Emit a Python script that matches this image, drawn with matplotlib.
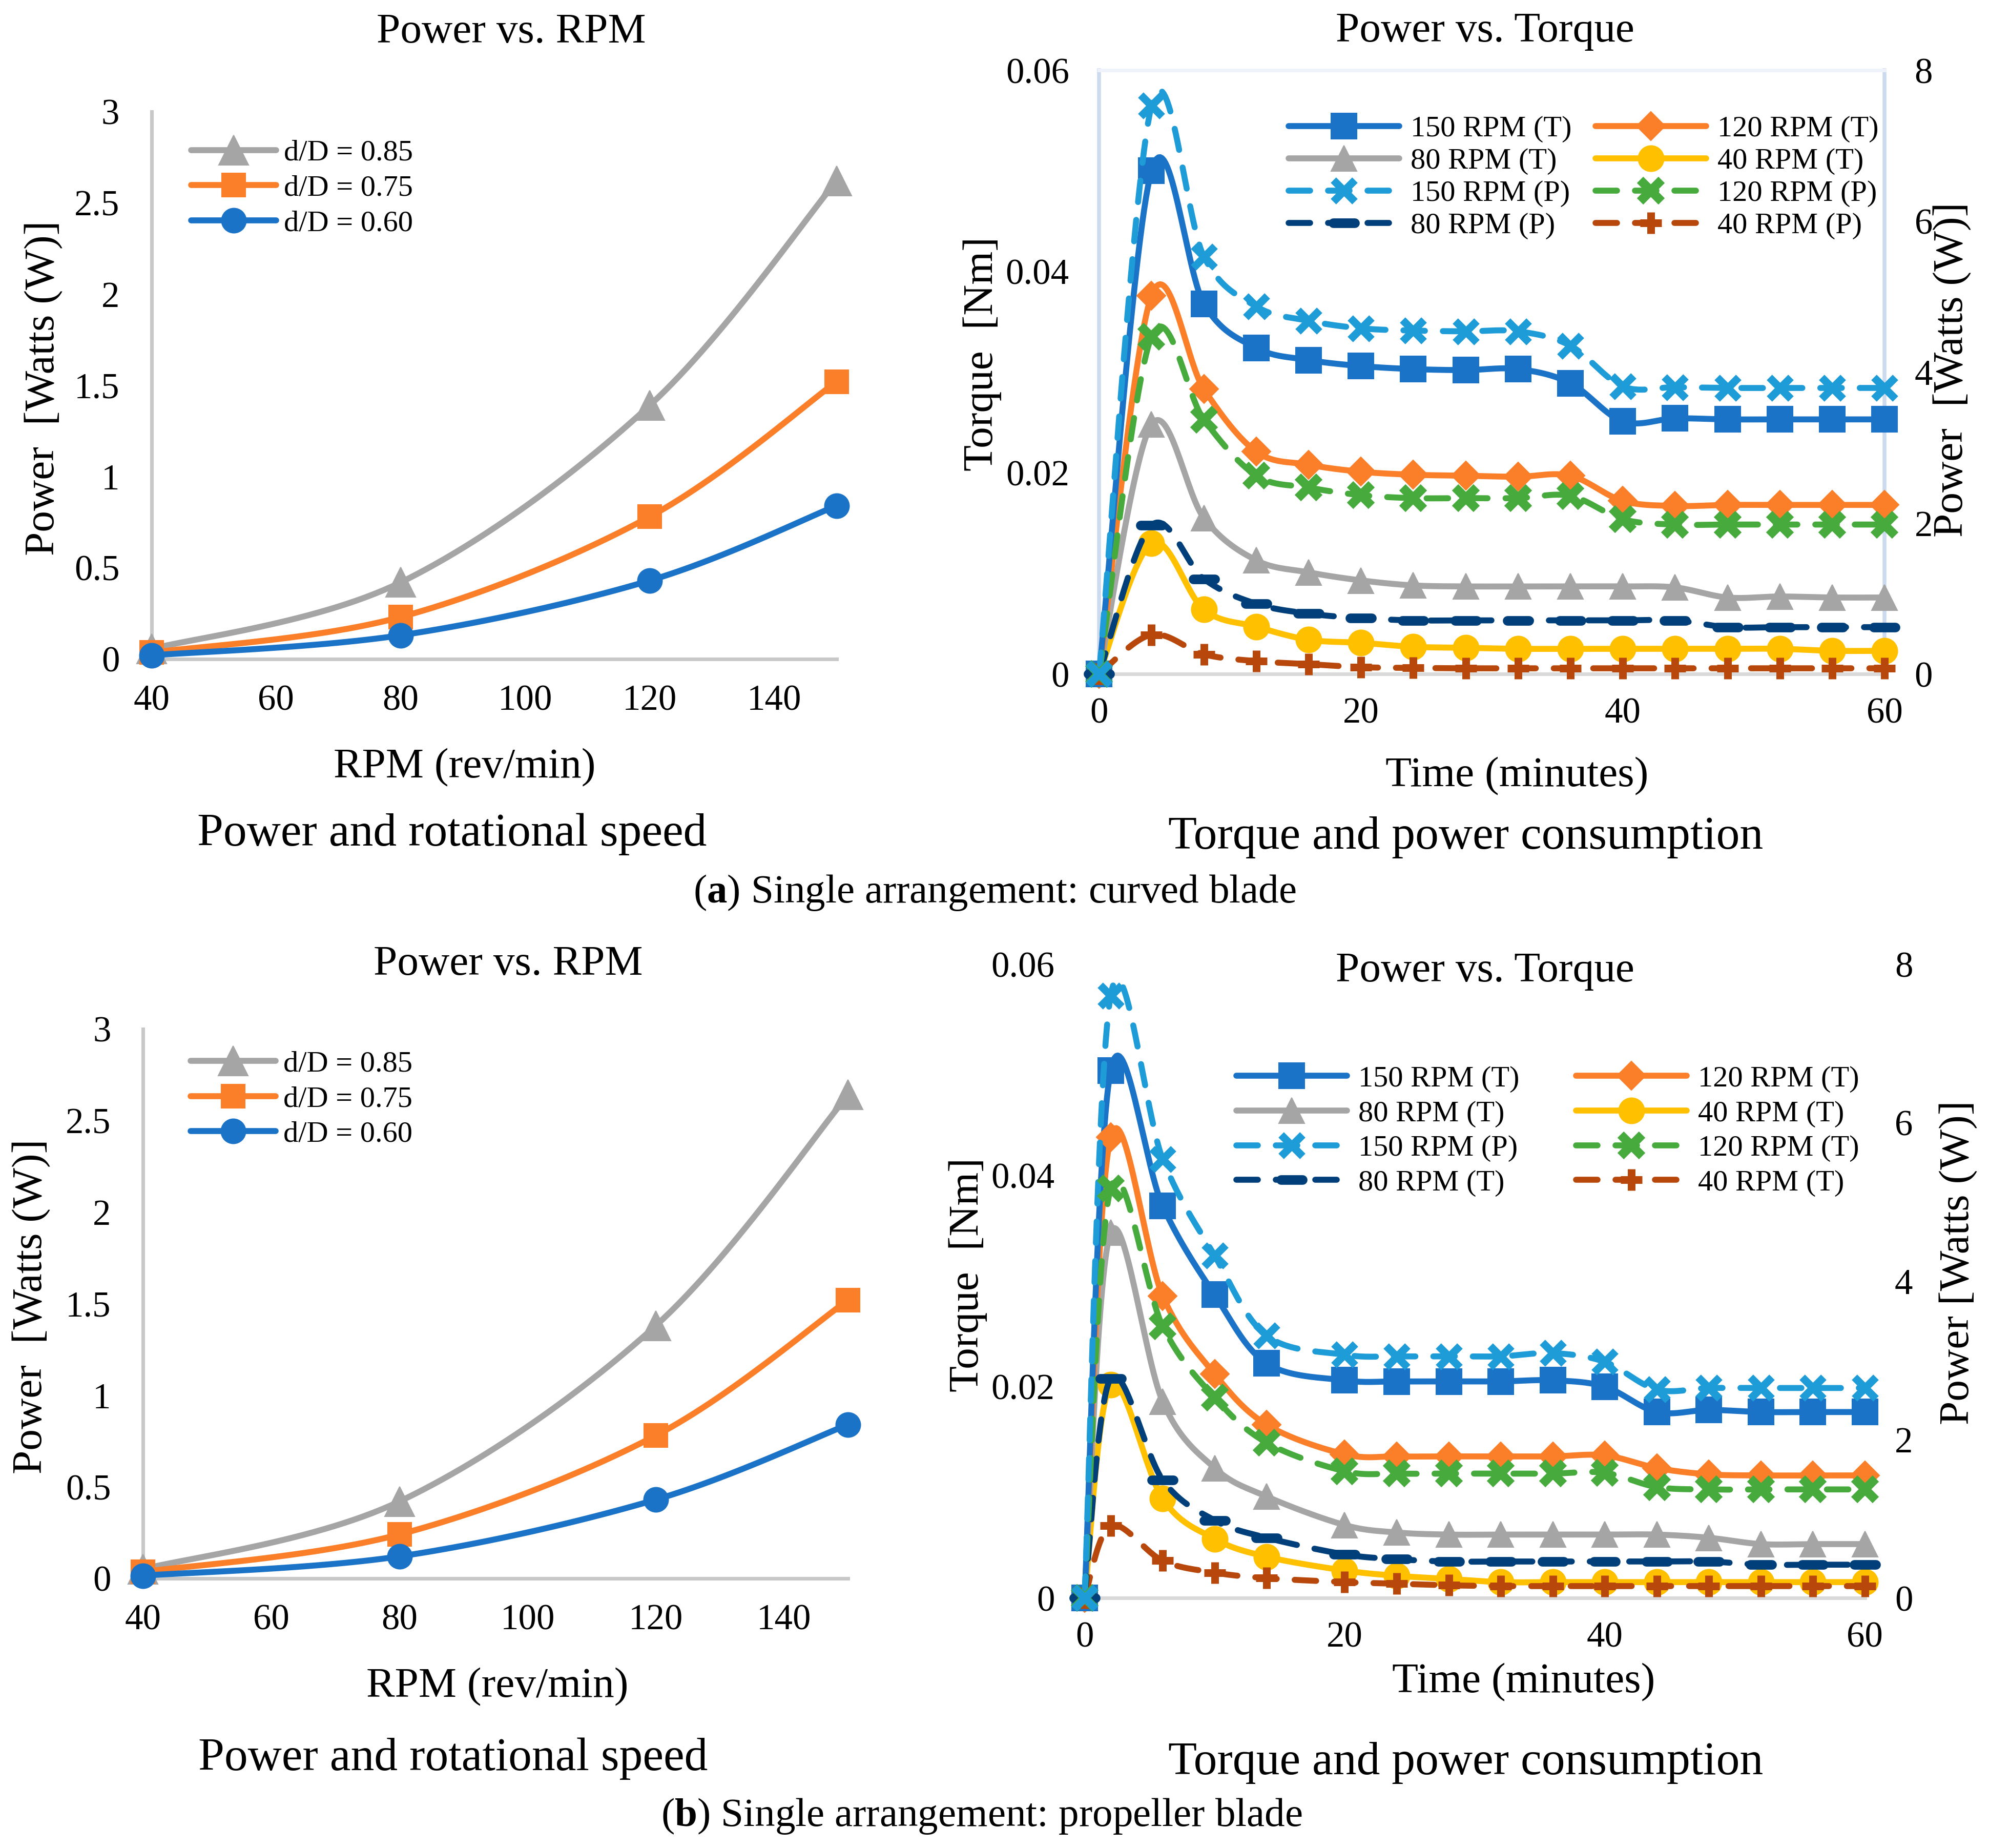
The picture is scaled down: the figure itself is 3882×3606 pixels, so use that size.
import numpy as np
import matplotlib
matplotlib.use('Agg')
import matplotlib.pyplot as plt
from matplotlib.lines import Line2D
from matplotlib.markers import MarkerStyle

plt.rcParams['font.family'] = ['Liberation Serif', 'DejaVu Serif']
plt.rcParams['mathtext.fontset'] = 'custom'
plt.rcParams['mathtext.rm'] = 'Liberation Serif'
plt.rcParams['mathtext.bf'] = 'Liberation Serif:bold'

# ---------------- data: power vs rpm ----------------
rpm = [40, 80, 120, 150]
rpm_ticks = [40, 60, 80, 100, 120, 140]
pw_ticks = [0, 0.5, 1, 1.5, 2, 2.5, 3]
pw_labels = ['0', '0.5', '1', '1.5', '2', '2.5', '3']
dD_labels = ['d/D = 0.85', 'd/D = 0.75', 'd/D = 0.60']

p085_a = [0.055, 0.42, 1.39, 2.62]
p075_a = [0.035, 0.23, 0.78, 1.52]
p060_a = [0.02, 0.13, 0.43, 0.84]

p085_b = [0.05, 0.42, 1.38, 2.64]
p075_b = [0.035, 0.24, 0.78, 1.52]
p060_b = [0.015, 0.12, 0.43, 0.84]

# ---------------- data: torque / power vs time ----------------
t_a = [0, 4, 8, 12, 16, 20, 24, 28, 32, 36, 40, 44, 48, 52, 56, 60]
T150_a = [0, 0.0500, 0.0368, 0.0324, 0.0312, 0.0306, 0.0303, 0.0302, 0.0303, 0.0289, 0.0251, 0.0254, 0.0253, 0.0253, 0.0253, 0.0253]
T120_a = [0, 0.0376, 0.0283, 0.0221, 0.0208, 0.0201, 0.0198, 0.0197, 0.0196, 0.0197, 0.0172, 0.0167, 0.0168, 0.0168, 0.0168, 0.0168]
T80_a = [0, 0.0248, 0.0155, 0.0113, 0.0101, 0.0093, 0.0088, 0.0087, 0.0087, 0.0087, 0.0087, 0.0086, 0.0076, 0.0077, 0.0076, 0.0076]
T40_a = [0, 0.0130, 0.0064, 0.0047, 0.0034, 0.0031, 0.0027, 0.0026, 0.0025, 0.0025, 0.0025, 0.0025, 0.0025, 0.0025, 0.0023, 0.0023]
P150_a = [0, 7.53, 5.53, 4.87, 4.68, 4.58, 4.55, 4.54, 4.54, 4.35, 3.81, 3.80, 3.79, 3.79, 3.79, 3.79]
P120_a = [0, 4.47, 3.37, 2.63, 2.47, 2.37, 2.33, 2.33, 2.33, 2.36, 2.05, 1.98, 1.98, 1.98, 1.98, 1.98]
P80_a = [0, 1.97, 1.26, 0.93, 0.80, 0.74, 0.71, 0.71, 0.71, 0.71, 0.71, 0.71, 0.62, 0.62, 0.62, 0.62]
P40_a = [0, 0.52, 0.26, 0.17, 0.13, 0.09, 0.08, 0.075, 0.075, 0.075, 0.075, 0.075, 0.075, 0.075, 0.075, 0.075]
labels_a = ['150 RPM (T)', '120 RPM (T)', '80 RPM (T)', '40 RPM (T)',
            '150 RPM (P)', '120 RPM (P)', '80 RPM (P)', '40 RPM (P)']

t_b = [0, 2, 6, 10, 14, 20, 24, 28, 32, 36, 40, 44, 48, 52, 56, 60]
T150_b = [0, 0.0499, 0.0371, 0.0287, 0.0222, 0.0206, 0.0205, 0.0205, 0.0205, 0.0206, 0.0200, 0.0176, 0.0178, 0.0176, 0.0176, 0.0176]
T120_b = [0, 0.0436, 0.0286, 0.0212, 0.0164, 0.0136, 0.0134, 0.0134, 0.0134, 0.0134, 0.0135, 0.0123, 0.0117, 0.0116, 0.0116, 0.0116]
T80_b = [0, 0.0346, 0.0186, 0.0123, 0.0096, 0.0069, 0.0062, 0.0060, 0.0060, 0.0060, 0.0060, 0.0060, 0.0057, 0.0051, 0.0051, 0.0051]
T40_b = [0, 0.0202, 0.0094, 0.0056, 0.0039, 0.0026, 0.0021, 0.0018, 0.0015, 0.0015, 0.0015, 0.0015, 0.0015, 0.0015, 0.0015, 0.0015]
P150_b = [0, 7.60, 5.54, 4.32, 3.31, 3.07, 3.05, 3.05, 3.05, 3.09, 2.98, 2.63, 2.65, 2.65, 2.65, 2.65]
P120_b = [0, 5.17, 3.43, 2.53, 1.96, 1.60, 1.57, 1.57, 1.57, 1.57, 1.58, 1.40, 1.37, 1.37, 1.37, 1.37]
P80_b = [0, 2.77, 1.49, 0.98, 0.76, 0.55, 0.49, 0.46, 0.46, 0.46, 0.46, 0.46, 0.46, 0.42, 0.42, 0.42]
P40_b = [0, 0.91, 0.47, 0.32, 0.25, 0.20, 0.18, 0.16, 0.15, 0.15, 0.15, 0.15, 0.15, 0.15, 0.15, 0.15]
labels_b = ['150 RPM (T)', '120 RPM (T)', '80 RPM (T)', '40 RPM (T)',
            '150 RPM (P)', '120 RPM (T)', '80 RPM (T)', '40 RPM (T)']

time_ticks = [0, 20, 40, 60]
tq_ticks = [0, 0.02, 0.04, 0.06]
tq_labels = ['0', '0.02', '0.04', '0.06']
pr_ticks = [0, 2, 4, 6, 8]
pr_labels = ['0', '2', '4', '6', '8']

# colours (excel-ish)
BLUE = '#1B73C8'
ORANGE = '#FB7E29'
GRAY = '#A5A5A5'
YELLOW = '#FFC000'
LBLUE = '#1E9CD7'
GREEN = '#46AB3C'
NAVY = '#003F7A'
RUST = '#B8470C'
AXGRAY = '#C8C8C8'
FRAME = '#CCDAF0'

LW = 2.8
DASH = (3.6, 3.0)


def smooth(x, y, n=30):
    # excel style smoothed line (bezier through points)
    x = np.asarray(x, float)
    y = np.asarray(y, float)
    px = np.concatenate([[x[0]], x, [x[-1]]])
    py = np.concatenate([[y[0]], y, [y[-1]]])
    s = np.linspace(0, 1, n + 1)[1:]
    xs, ys = [x[0]], [y[0]]
    for i in range(len(x) - 1):
        p0 = np.array([px[i], py[i]])
        p1 = np.array([px[i + 1], py[i + 1]])
        p2 = np.array([px[i + 2], py[i + 2]])
        p3 = np.array([px[i + 3], py[i + 3]])
        c1 = p1 + (p2 - p0) / 6
        c2 = p2 - (p3 - p1) / 6
        for u in s:
            pt = (1 - u) ** 3 * p1 + 3 * (1 - u) ** 2 * u * c1 + 3 * (1 - u) * u ** 2 * c2 + u ** 3 * p2
            xs.append(pt[0])
            ys.append(pt[1])
    return xs, ys


def series(ax, x, y, color, marker, ms, mew=0.5, dashed=False, z=3):
    sx, sy = smooth(x, y)
    if dashed:
        ax.plot(sx, sy, color=color, lw=LW, dashes=DASH, dash_capstyle='round', zorder=z, clip_on=False)
    else:
        ax.plot(sx, sy, color=color, lw=LW, solid_capstyle='round', zorder=z, clip_on=False)
    ax.plot(x, y, ls='none', marker=marker, ms=ms, mfc=color, mec=color, mew=mew, zorder=z + 0.1, clip_on=False)
    kw = dict(color=color, lw=LW, marker=marker, ms=ms, mfc=color, mec=color, mew=mew)
    if dashed:
        return Line2D([], [], dashes=DASH, dash_capstyle='round', **kw)
    return Line2D([], [], solid_capstyle='round', **kw)


fig = plt.figure(figsize=(12.94, 12.02), dpi=300)

TICK = 17


def rpm_panel(rect, p85, p75, p60, leg_anchor):
    ax = fig.add_axes(rect)
    h1 = series(ax, rpm, p85, GRAY, '^', 14)
    h2 = series(ax, rpm, p75, ORANGE, 's', 11)
    h3 = series(ax, rpm, p60, BLUE, 'o', 11.5)
    ax.set_xlim(40, 150)
    ax.set_ylim(0, 3)
    ax.set_xticks(rpm_ticks)
    ax.set_yticks(pw_ticks)
    ax.set_yticklabels(pw_labels)
    ax.tick_params(length=0, labelsize=TICK)
    ax.tick_params(axis='x', pad=12)
    ax.tick_params(axis='y', pad=15)
    for s in ['top', 'right']:
        ax.spines[s].set_visible(False)
    for s in ['left', 'bottom']:
        ax.spines[s].set_color(AXGRAY)
        ax.spines[s].set_linewidth(1.7)
    ax.set_facecolor('none')
    ax.legend([h1, h2, h3], dD_labels, loc='center left', bbox_to_anchor=leg_anchor,
              bbox_transform=fig.transFigure, frameon=False, fontsize=14,
              handlelength=2.85, handletextpad=0.25, labelspacing=0.27,
              borderpad=0, borderaxespad=0)
    return ax


def time_panel(rect, t, T150, T120, T80, T40, P150, P120, P80, P40, labels, leg_anchor, colsp, lsp, frame):
    ax = fig.add_axes(rect)
    ax2 = ax.twinx()
    hT150 = series(ax, t, T150, BLUE, 's', 12, z=3.4)
    hT120 = series(ax, t, T120, ORANGE, 'D', 9.5, z=3.3)
    hT80 = series(ax, t, T80, GRAY, '^', 12, z=3.2)
    hT40 = series(ax, t, T40, YELLOW, 'o', 12, z=3.1)
    hP150 = series(ax2, t, P150, LBLUE, MarkerStyle('x'), 10, mew=3.6, dashed=True, z=3.4)
    hP120 = series(ax2, t, P120, GREEN, MarkerStyle('x'), 10, mew=4.2, dashed=True, z=3.3)
    hP80 = series(ax2, t, P80, NAVY, MarkerStyle('_', capstyle='round'), 10, mew=4.5, dashed=True, z=3.2)
    hP40 = series(ax2, t, P40, RUST, MarkerStyle('+'), 10, mew=3.6, dashed=True, z=3.1)
    ax.set_xlim(0, 60)
    ax.set_ylim(0, 0.06)
    ax2.set_ylim(0, 8)
    ax.set_xticks(time_ticks)
    ax.set_yticks(tq_ticks)
    ax.set_yticklabels(tq_labels)
    ax2.set_yticks(pr_ticks)
    ax2.set_yticklabels(pr_labels)
    ax.tick_params(length=0, labelsize=TICK)
    ax.tick_params(axis='x', pad=11)
    ax.tick_params(axis='y', pad=14)
    ax2.tick_params(length=0, labelsize=TICK, pad=14)
    for s in ax2.spines.values():
        s.set_visible(False)
    ax.spines['bottom'].set_color('#D9D9D9')
    ax.spines['bottom'].set_linewidth(1.7)
    ax.spines['bottom'].set_zorder(2.5)
    if frame:
        for s in ['left', 'right']:
            ax.spines[s].set_color(FRAME)
            ax.spines[s].set_linewidth(1.8)
        ax.spines['top'].set_color('#EEF2FA')
        ax.spines['top'].set_linewidth(1.6)
    else:
        for s in ['left', 'right', 'top']:
            ax.spines[s].set_visible(False)
    handles = [hT150, hT80, hP150, hP80, hT120, hT40, hP120, hP40]
    labs = [labels[0], labels[2], labels[4], labels[6], labels[1], labels[3], labels[5], labels[7]]
    ax2.legend(handles, labs, ncol=2, loc='center left', bbox_to_anchor=leg_anchor,
               bbox_transform=fig.transFigure, frameon=False, fontsize=14,
               handlelength=3.7, handletextpad=0.38, labelspacing=lsp,
               columnspacing=colsp, borderpad=0, borderaxespad=0)
    return ax, ax2


rpm_panel([0.0762, 0.6434, 0.3444, 0.2962], p085_a, p075_a, p060_a, (0.0961, 0.8982))
rpm_panel([0.0719, 0.1459, 0.3545, 0.2973], p085_b, p075_b, p060_b, (0.0958, 0.4052))

time_panel([0.5526, 0.6353, 0.3949, 0.3267], t_a, T150_a, T120_a, T80_a, T40_a,
           P150_a, P120_a, P80_a, P40_a, labels_a, (0.6479, 0.904), 0.8, 0.17, True)
time_panel([0.5453, 0.1353, 0.3923, 0.3430], t_b, T150_b, T120_b, T80_b, T40_b,
           P150_b, P120_b, P80_b, P40_b, labels_b, (0.6216, 0.388), 1.9, 0.25, False)

# ---------------- texts ----------------
fig.text(0.257, 0.9825, 'Power vs. RPM', fontsize=20, ha='center', va='center')
fig.text(0.7466, 0.983, 'Power vs. Torque', fontsize=20, ha='center', va='center')
fig.text(0.2336, 0.5846, 'RPM (rev/min)', fontsize=20, ha='center', va='center')
fig.text(0.7627, 0.580, 'Time (minutes)', fontsize=20, ha='center', va='center')
fig.text(0.2272, 0.5485, 'Power and rotational speed', fontsize=22, ha='center', va='center')
fig.text(0.737, 0.5469, 'Torque and power consumption', fontsize=22, ha='center', va='center')
fig.text(0.5, 0.517, r'($\mathbf{a}$) Single arrangement: curved blade', fontsize=19, ha='center', va='center')

fig.text(0.2556, 0.478, 'Power vs. RPM', fontsize=20, ha='center', va='center')
fig.text(0.7466, 0.4745, 'Power vs. Torque', fontsize=20, ha='center', va='center')
fig.text(0.25, 0.0871, 'RPM (rev/min)', fontsize=20, ha='center', va='center')
fig.text(0.766, 0.0896, 'Time (minutes)', fontsize=20, ha='center', va='center')
fig.text(0.2277, 0.0483, 'Power and rotational speed', fontsize=22, ha='center', va='center')
fig.text(0.737, 0.046, 'Torque and power consumption', fontsize=22, ha='center', va='center')
fig.text(0.4935, 0.0172, r'($\mathbf{b}$) Single arrangement: propeller blade', fontsize=19, ha='center', va='center')

fig.text(0.022, 0.790, 'Power  [Watts (W)]', fontsize=20, rotation=90, ha='center', va='center')
fig.text(0.016, 0.293, 'Power  [Watts (W)]', fontsize=20, rotation=90, ha='center', va='center')
fig.text(0.4938, 0.8084, 'Torque  [Nm]', fontsize=20, rotation=90, ha='center', va='center')
fig.text(0.4866, 0.3103, 'Torque  [Nm]', fontsize=20, rotation=90, ha='center', va='center')
fig.text(0.9815, 0.800, 'Power  [Watts (W)]', fontsize=20, rotation=90, ha='center', va='center')
fig.text(0.9848, 0.3167, 'Power [Watts (W)]', fontsize=20, rotation=90, ha='center', va='center')

fig.savefig('out.png', dpi=300, facecolor='white')
